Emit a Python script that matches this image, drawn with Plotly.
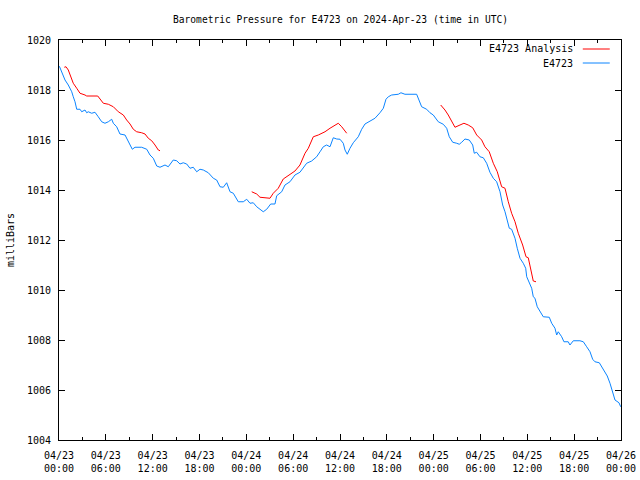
import plotly.graph_objects as go
import pandas as pd
import numpy as np

title_text = "Barometric Pressure for E4723 on 2024-Apr-23 (time in UTC)"
start = pd.Timestamp("2024-04-23 00:00")
end = pd.Timestamp("2024-04-26 00:00")

# Observed station series: hours since start, pressure (mb)
obs_hours = [0.05, 0.42, 0.77, 1.19, 1.63, 1.83, 2.05, 2.27, 2.69, 2.91, 3.33, 3.55, 3.75, 4.19, 4.61,
             5.03, 5.47, 5.89, 6.32, 6.75, 6.96, 7.39, 7.81, 8.46, 8.88, 9.39, 9.74, 10.59, 11.24, 11.66,
             12.08, 12.52, 12.94, 13.36, 13.58, 14.00, 14.44, 14.64, 15.08, 15.50, 15.92, 16.36, 16.78,
             17.20, 17.64, 18.06, 18.49, 19.13, 19.77, 20.20, 20.63, 21.05, 21.48, 21.91, 22.33, 22.97,
             23.61, 24.05, 24.47, 24.89, 25.33, 25.75, 26.17, 26.61, 27.12, 27.67, 27.89, 28.53, 28.95,
             29.59, 30.23, 30.87, 31.30, 31.73, 32.37, 33.01, 33.44, 33.86, 34.29, 34.72, 35.14, 35.58,
             36.00, 36.42, 36.64, 36.93, 37.28, 37.70, 38.34, 38.78, 39.20, 39.84, 40.48, 41.12, 41.55,
             41.89, 42.19, 42.62, 43.47, 43.81, 44.32, 45.82, 46.16, 46.46, 47.10, 47.53, 47.95, 48.59,
             49.23, 49.67, 50.00, 50.44, 50.95, 51.28, 51.59, 52.01, 52.56, 53.00, 53.20, 53.51, 53.93,
             54.36, 54.79, 55.21, 55.64, 56.07, 56.50, 56.84, 57.14, 57.43, 57.69, 57.99, 58.42, 58.71,
             59.06, 59.48, 59.79, 59.92, 60.25, 60.56, 60.76, 60.98, 61.27, 61.62, 62.04, 62.81, 63.12,
             63.54, 63.76, 63.96, 64.40, 64.69, 65.24, 65.46, 65.89, 66.74, 67.17, 67.60, 68.03, 68.37,
             68.66, 69.22, 69.73, 70.24, 70.59, 70.93, 71.23, 71.74, 71.96]
obs_mb = [1018.95, 1018.67, 1018.40, 1018.20, 1017.93, 1017.73, 1017.53, 1017.23, 1017.23, 1017.13,
          1017.20, 1017.09, 1017.13, 1017.07, 1017.11, 1016.93, 1016.73, 1016.67, 1016.73, 1016.83,
          1016.67, 1016.53, 1016.24, 1016.20, 1015.93, 1015.63, 1015.71, 1015.71, 1015.63, 1015.40,
          1015.27, 1014.96, 1014.91, 1014.96, 1015.00, 1014.93, 1015.13, 1015.20, 1015.17, 1015.04,
          1015.09, 1015.04, 1014.87, 1014.91, 1014.73, 1014.83, 1014.80, 1014.69, 1014.47, 1014.40,
          1014.13, 1014.11, 1014.29, 1013.93, 1013.87, 1013.53, 1013.53, 1013.63, 1013.47, 1013.49,
          1013.33, 1013.23, 1013.13, 1013.23, 1013.44, 1013.44, 1013.77, 1013.93, 1014.20, 1014.33,
          1014.60, 1014.71, 1014.87, 1015.07, 1015.16, 1015.33, 1015.53, 1015.73, 1015.80, 1015.73,
          1016.09, 1016.04, 1016.03, 1015.87, 1015.60, 1015.43, 1015.67, 1015.89, 1016.13, 1016.43,
          1016.64, 1016.77, 1016.87, 1017.09, 1017.27, 1017.63, 1017.73, 1017.80, 1017.83, 1017.89,
          1017.83, 1017.83, 1017.53, 1017.33, 1017.23, 1017.09, 1017.00, 1016.73, 1016.63, 1016.47,
          1016.13, 1015.91, 1015.87, 1015.83, 1015.91, 1016.04, 1016.00, 1015.80, 1015.47, 1015.51,
          1015.33, 1015.29, 1015.07, 1014.71, 1014.47, 1014.33, 1013.93, 1013.40, 1013.13, 1012.73,
          1012.47, 1012.43, 1012.07, 1011.67, 1011.27, 1011.07, 1010.87, 1010.53, 1010.27, 1010.07,
          1009.73, 1009.67, 1009.33, 1009.13, 1008.93, 1008.91, 1008.67, 1008.47, 1008.20, 1008.33,
          1008.13, 1007.93, 1007.93, 1007.80, 1007.97, 1007.97, 1007.93, 1007.73, 1007.53, 1007.23,
          1007.13, 1007.09, 1006.80, 1006.56, 1006.27, 1005.87, 1005.60, 1005.49, 1005.33]

# Analysis series, three segments (None marks a gap)
ana_hours = [0.68, 0.90, 1.19, 1.41, 1.83, 2.27, 2.69, 3.33, 3.55, 4.96, 5.25, 5.68, 6.32, 6.96, 7.60,
             8.24, 8.67, 9.10, 9.52, 9.95, 10.59, 11.02, 11.44, 11.88, 12.30, 12.72, 12.94,
             18.0,
             24.69, 25.33, 25.75, 26.61, 27.03, 27.45, 28.09, 28.73, 29.59, 30.23, 30.87, 31.52, 31.94,
             32.58, 33.22, 34.08, 34.72, 35.36, 35.78, 36.22, 36.86,
             42.0,
             48.90, 49.45, 49.87, 50.31, 50.73, 51.37, 51.88, 52.43, 53.00, 53.51, 54.15, 54.57, 55.12,
             55.64, 56.15, 56.71, 57.14, 57.56, 57.99, 58.42, 58.84, 59.40, 59.83, 60.12, 60.47, 60.76,
             61.11]
ana_mb = [1018.91, 1018.93, 1018.80, 1018.60, 1018.27, 1018.07, 1017.87, 1017.80, 1017.76, 1017.76,
          1017.63, 1017.47, 1017.43, 1017.33, 1017.13, 1017.00, 1016.80, 1016.64, 1016.43, 1016.33,
          1016.29, 1016.24, 1016.07, 1015.97, 1015.80, 1015.60, 1015.57,
          None,
          1013.93, 1013.84, 1013.71, 1013.67, 1013.67, 1013.87, 1014.07, 1014.44, 1014.63, 1014.76,
          1015.00, 1015.47, 1015.67, 1016.13, 1016.20, 1016.33, 1016.47, 1016.60, 1016.67, 1016.53,
          1016.27,
          None,
          1017.40, 1017.20, 1017.00, 1016.76, 1016.51, 1016.60, 1016.67, 1016.60, 1016.49, 1016.20,
          1016.00, 1015.73, 1015.53, 1015.07, 1014.73, 1014.13, 1014.07, 1013.53, 1013.07, 1012.73,
          1012.27, 1011.80, 1011.33, 1011.29, 1010.80, 1010.36, 1010.33]

y_ticks = [1004, 1006, 1008, 1010, 1012, 1014, 1016, 1018, 1020]
series_names = ["E4723 Analysis", "E4723"]
colors = ["#ff0000", "#0a84ff"]

obs_t = start + pd.to_timedelta(obs_hours, unit="h")
ana_t = start + pd.to_timedelta(ana_hours, unit="h")

FONT = "DejaVu Sans Mono"

fig = go.Figure()
fig.add_trace(go.Scatter(x=ana_t, y=ana_mb, mode="lines", name=series_names[0],
                         line=dict(color=colors[0], width=1), connectgaps=False))
fig.add_trace(go.Scatter(x=obs_t, y=obs_mb, mode="lines", name=series_names[1],
                         line=dict(color=colors[1], width=1)))

# gnuplot-style legend: text right-aligned, sample line on the right
legend_y = [0.9775, 0.9425]
for i, (nm, col) in enumerate(zip(series_names, colors)):
    fig.add_annotation(xref="paper", yref="paper", x=0.918, y=legend_y[i], text=nm,
                       showarrow=False, xanchor="right", yanchor="middle",
                       font=dict(family=FONT, size=10, color="black"))
    fig.add_shape(type="line", xref="paper", yref="paper", x0=0.932, x1=0.980,
                  y0=legend_y[i], y1=legend_y[i], line=dict(color=col, width=1))

# title as annotation (paper coords above the plot area)
fig.add_annotation(xref="paper", yref="paper", x=0.5, y=1.0525, text=title_text,
                   showarrow=False, xanchor="center", yanchor="middle",
                   font=dict(family=FONT, size=9.6, color="black"))

fig.update_layout(
    width=640, height=480,
    margin=dict(l=59, r=19, t=40, b=40, autoexpand=False),
    paper_bgcolor="white", plot_bgcolor="white",
    showlegend=False,
    font=dict(family=FONT, size=10, color="black"),
    xaxis=dict(range=[start, end], type="date", dtick=6 * 3600 * 1000, tick0=start,
               tickformat="%m/%d<br>%H:%M", ticks="inside", ticklen=6, tickcolor="black",
               showline=True, linecolor="black", linewidth=1, mirror="ticks",
               showgrid=False, zeroline=False, automargin=False, ticklabelstandoff=6,
               minor=dict(dtick=3 * 3600 * 1000, ticks="inside", ticklen=3, tickcolor="black"),
               tickfont=dict(family=FONT, size=10)),
    yaxis=dict(range=[1004, 1020], tickvals=y_ticks, ticktext=[str(v) for v in y_ticks],
               ticks="inside", ticklen=6, tickcolor="black",
               showline=True, linecolor="black", linewidth=1, mirror="ticks",
               showgrid=False, zeroline=False, automargin=False, ticklabelstandoff=5,
               title=dict(text="milliBars", font=dict(family=FONT, size=10), standoff=10),
               tickfont=dict(family=FONT, size=10)),
)

fig.write_html("out.html", config={"displayModeBar": False},
               post_script="document.body.style.margin='0';document.body.style.padding='0';")
